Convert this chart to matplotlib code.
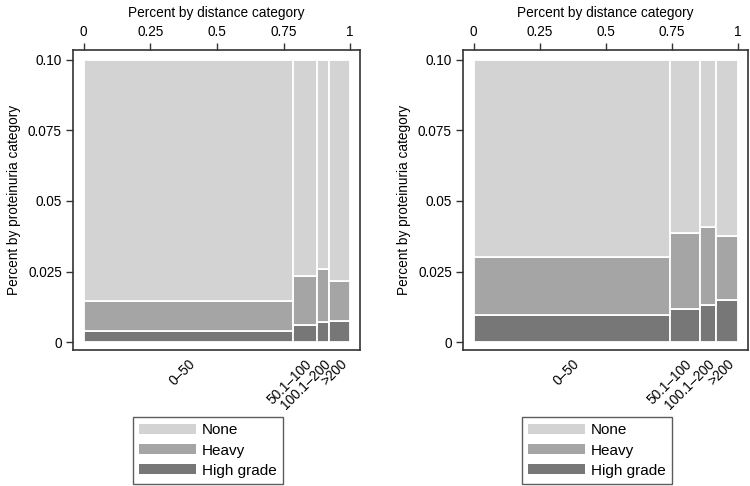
"""Two spineplots: proteinuria category by distance category."""

import matplotlib.pyplot as plt
import numpy as np
from matplotlib.patches import Patch

plt.rcParams["font.family"] = ["Liberation Sans", "DejaVu Sans"]
plt.rcParams["font.size"] = 9.8

categories = ["0\u201350", "50.1\u2013100", "100.1\u2013200", ">200"]
levels = ["None", "Heavy", "High grade"]
colors = {"None": "#d3d3d3", "Heavy": "#a5a5a5", "High grade": "#777777"}

# left panel: column widths (share by distance) and stacked segment heights
left_widths = [0.787, 0.087, 0.048, 0.078]
left_high = [0.0040, 0.0062, 0.0072, 0.0074]
left_heavy = [0.0105, 0.0171, 0.0187, 0.0142]
left_none = [0.0855, 0.0767, 0.0741, 0.0784]

# right panel
right_widths = [0.742, 0.112, 0.062, 0.084]
right_high = [0.0097, 0.0116, 0.0130, 0.0149]
right_heavy = [0.0205, 0.0271, 0.0278, 0.0227]
right_none = [0.0698, 0.0613, 0.0592, 0.0624]

y_ticks = [0, 0.025, 0.05, 0.075, 0.10]
y_labels = ["0", "0.025", "0.05", "0.075", "0.10"]
x_ticks = [0, 0.25, 0.5, 0.75, 1]
x_labels = ["0", "0.25", "0.5", "0.75", "1"]

FRAME = "#333333"


def spineplot(ax, widths, high, heavy, none):
    widths = np.array(widths)
    lefts = np.concatenate([[0], np.cumsum(widths)[:-1]])
    bottom = np.zeros(len(widths))
    for name, vals in zip(["High grade", "Heavy", "None"], [high, heavy, none]):
        ax.bar(lefts, vals, width=widths, bottom=bottom, align="edge",
               color=colors[name], edgecolor="white", linewidth=1.3)
        bottom = bottom + np.array(vals)

    ax.set_xlim(-0.04, 1.037)
    ax.set_ylim(-0.0028, 0.1035)
    ax.set_yticks(y_ticks, y_labels)
    ax.xaxis.tick_top()
    ax.xaxis.set_label_position("top")
    ax.set_xticks(x_ticks, x_labels)
    ax.set_xlabel("Percent by distance category", labelpad=6)
    ax.set_ylabel("Percent by proteinuria category", labelpad=5)
    ax.tick_params(length=5, width=1, color=FRAME, pad=3)
    for s in ax.spines.values():
        s.set_color(FRAME)
        s.set_linewidth(1.2)

    sec = ax.secondary_xaxis("bottom")
    sec.set_xticks(lefts + widths / 2, categories)
    sec.tick_params(length=0, pad=5)
    sec.spines["bottom"].set_visible(False)
    for lab in sec.get_xticklabels():
        lab.set_rotation(45)
        lab.set_ha("right")
        lab.set_va("top")
        lab.set_rotation_mode("anchor")


fig = plt.figure(figsize=(7.5, 4.86), dpi=100)
ax1 = fig.add_axes([73 / 750, 1 - 350 / 486, 287 / 750, 300 / 486])
ax2 = fig.add_axes([463 / 750, 1 - 350 / 486, 285 / 750, 300 / 486])

spineplot(ax1, left_widths, left_high, left_heavy, left_none)
spineplot(ax2, right_widths, right_high, right_heavy, right_none)

handles = [Patch(facecolor=colors[n], edgecolor="none", label=n) for n in levels]
for x0 in (133, 522):
    leg = fig.legend(handles=handles, loc="upper left",
                     bbox_to_anchor=(x0 / 750, 1 - 417 / 486),
                     frameon=True, fancybox=False, fontsize=11,
                     handlelength=3.7, handleheight=0.65, labelspacing=0.4,
                     handletextpad=0.4, borderpad=0.42, borderaxespad=0)
    leg.get_frame().set_edgecolor(FRAME)
    leg.get_frame().set_linewidth(1.0)

fig.savefig("out.png", dpi=100)
